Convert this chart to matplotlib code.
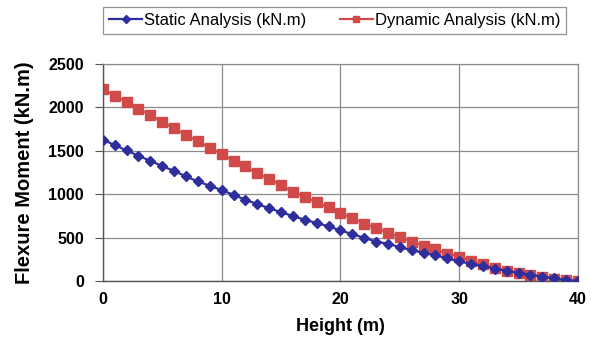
import matplotlib
matplotlib.use("Agg")
import matplotlib.pyplot as plt

plt.rcParams['font.family'] = ['Liberation Sans', 'DejaVu Sans']

height = list(range(0, 41))
static = [1630, 1565, 1505, 1442, 1385, 1324, 1268, 1205, 1147, 1097, 1047,
          993, 936, 885, 839, 793, 747, 705, 668, 630, 582,
          540, 497, 454, 428, 390, 354, 325, 295, 260, 225,
          198, 170, 142, 116, 92, 70, 50, 30, 12, 0]
dynamic = [2214, 2137, 2063, 1983, 1915, 1833, 1759, 1683, 1608, 1536, 1463,
           1386, 1320, 1240, 1178, 1105, 1028, 970, 905, 847, 780,
           724, 662, 609, 554, 508, 454, 404, 366, 315, 280,
           233, 190, 148, 118, 95, 70, 48, 25, 10, 0]
xticks = [0, 10, 20, 30, 40]
yticks = [0, 500, 1000, 1500, 2000, 2500]

fig = plt.figure(figsize=(5.91, 3.43), dpi=100)
ax = fig.add_axes([0.174, 0.181, 0.804, 0.632])

l1, = ax.plot(height, static, color='#2E2E9C', marker='D', markersize=5.0,
              linewidth=1.6, label='Static Analysis (kN.m)', zorder=3)
l2, = ax.plot(height, dynamic, color='#D04A4A', marker='s', markersize=6.5,
              linewidth=1.6, label='Dynamic Analysis (kN.m)', zorder=2)

ax.set_xlim(0, 40)
ax.set_ylim(0, 2500)
ax.set_xticks(xticks)
ax.set_yticks(yticks)
ax.grid(True, color='#8C8C8C', linewidth=0.9)
ax.set_axisbelow(True)
for s in ['top', 'right']:
    ax.spines[s].set_color('#8C8C8C')
    ax.spines[s].set_linewidth(0.9)
for s in ['left', 'bottom']:
    ax.spines[s].set_color('#555555')
    ax.spines[s].set_linewidth(1.0)
ax.tick_params(axis='y', direction='out', length=5.5, color='#555555', pad=8)
ax.tick_params(axis='x', direction='out', length=0, pad=8)
for lab in ax.get_xticklabels() + ax.get_yticklabels():
    lab.set_fontweight('bold')
    lab.set_fontsize(11.5)

ax.set_xlabel('Height (m)', fontsize=13, fontweight='bold', labelpad=8)
ax.set_ylabel('Flexure Moment (kN.m)', fontsize=14.5, fontweight='bold', labelpad=10)

leg = fig.legend(handles=[l1, l2], loc='center', ncol=2,
                 bbox_to_anchor=(0.566, 0.940), frameon=True, fancybox=False,
                 fontsize=12, handlelength=2.0, handletextpad=0.1,
                 columnspacing=2.0, borderpad=0.35, markerscale=0.75)
leg.get_frame().set_edgecolor('#777777')
leg.get_frame().set_linewidth(0.9)

fig.savefig('out.png', dpi=100)
